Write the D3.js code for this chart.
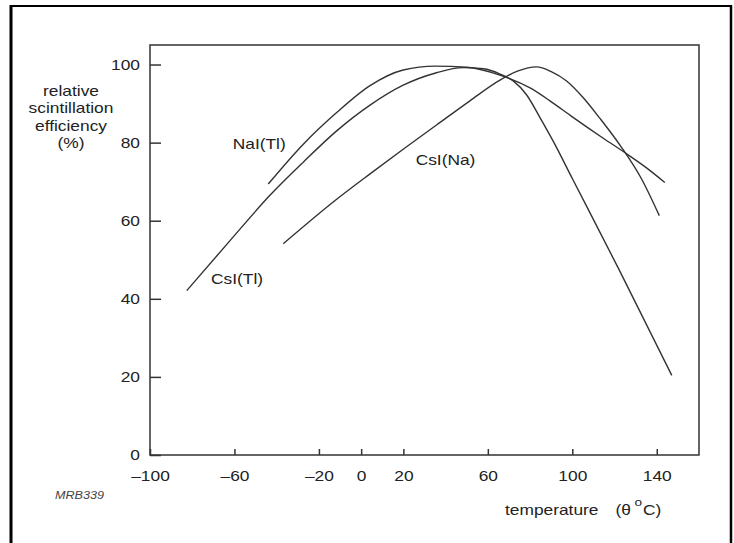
<!DOCTYPE html>
<html>
<head>
<meta charset="utf-8">
<script src="https://cdn.jsdelivr.net/npm/d3@7"></script>
<style>
  html, body { margin: 0; padding: 0; background: #fff; }
  svg { display: block; }
  text { font-family: "Liberation Sans", Arial, sans-serif; fill: #222; }
</style>
</head>
<body>
<svg id="chart" width="734" height="543"></svg>
<script>
// ---- data ----
const xTicks = [-100, -60, -20, 0, 20, 60, 100, 140];
const yTicks = [0, 20, 40, 60, 80, 100];

// temperature (°C), relative scintillation efficiency (%)
const naiTl = [[-44,69.4],[-27.4,79.6],[-11.6,87.7],[4.2,94.6],[19.9,98.6],[35,99.6],[50,99.3],[65.7,97.3],[80,94.0],[89.4,90.7],[100,86.6],[115,81],[125,77.4],[135,73.6],[143.8,69.8]];
const csiTl = [[-82.6,42.1],[-62.1,54.9],[-43.2,66.5],[-27.4,75.0],[-11.6,83],[4.2,89.6],[19.9,94.7],[35.7,97.9],[48.3,99.2],[58,98.9],[66,97.5],[72,95.8],[78.4,92.2],[84.7,86.4],[91,80.3],[100,70.8],[122.5,47.1],[147.1,20.4]];
const csiNa = [[-36.9,54.1],[-11.6,65.5],[4.2,72.0],[19.9,78.3],[35.7,84.5],[51.5,90.7],[65.7,96.0],[74,98.3],[83.1,99.4],[90,98.2],[97.3,95.8],[105.2,91.5],[113.1,86.2],[123.3,78.8],[133,70.5],[141.2,61.3]];

const seriesNames = ["NaI(Tl)", "CsI(Na)", "CsI(Tl)"];
const seriesData = [naiTl, csiNa, csiTl];
// label anchor in data coordinates (temperature, efficiency)
const labelAt = [[-60.8, 78.4], [25.8, 74.3], [-71.1, 43.7]];

const yTitle = ["relative", "scintillation", "efficiency", "(%)"];
const xTitle = "temperature";
const code = "MRB339";

// ---- layout ----
const SX = 1.24; // horizontal text stretch of the reference
const svg = d3.select("#chart");
const x = d3.scaleLinear().domain([-100, 160]).range([150, 699]);
const y = d3.scaleLinear().domain([0, 105]).range([455, 45]);

// outer border (left, top, right)
svg.append("line").attr("x1", 11).attr("x2", 11).attr("y1", 5).attr("y2", 543)
  .attr("stroke", "#000").attr("stroke-width", 3);
svg.append("line").attr("x1", 10).attr("x2", 732).attr("y1", 6).attr("y2", 6)
  .attr("stroke", "#000").attr("stroke-width", 2);
svg.append("line").attr("x1", 731).attr("x2", 731).attr("y1", 5).attr("y2", 543)
  .attr("stroke", "#000").attr("stroke-width", 2.5);

// plot frame
svg.append("rect")
  .attr("x", x(-100)).attr("y", y(105))
  .attr("width", x(160) - x(-100)).attr("height", y(0) - y(105))
  .attr("fill", "none").attr("stroke", "#333").attr("stroke-width", 1.5);

const fmt = d => d < 0 ? "\u2013" + Math.abs(d) : String(d);

// x axis
const gx = svg.append("g").attr("transform", `translate(0,${y(0)})`)
  .call(d3.axisBottom(x).tickValues(xTicks).tickSize(-6).tickSizeOuter(0).tickFormat(fmt));
gx.select(".domain").remove();
gx.selectAll(".tick line").attr("stroke", "#333").attr("stroke-width", 1.5);
gx.selectAll(".tick text")
  .attr("y", 0).attr("dy", 0)
  .attr("transform", `translate(0,26) scale(${SX},1)`)
  .style("font-size", "14px").style("fill", "#222")
  .attr("font-family", null);

// y axis
const gy = svg.append("g").attr("transform", `translate(${x(-100)},0)`)
  .call(d3.axisLeft(y).tickValues(yTicks).tickSize(-11).tickSizeOuter(0));
gy.select(".domain").remove();
gy.selectAll(".tick line").attr("stroke", "#333").attr("stroke-width", 1.5);
gy.selectAll(".tick text")
  .attr("x", 0).attr("dy", "0.34em")
  .attr("transform", `translate(-10,0) scale(${SX},1)`)
  .style("font-size", "14px").style("fill", "#222")
  .attr("font-family", null);

// curves
const line = d3.line()
  .x(d => x(d[0])).y(d => y(d[1]))
  .curve(d3.curveMonotoneX);
svg.append("g").selectAll("path").data(seriesData).join("path")
  .attr("d", line)
  .attr("fill", "none").attr("stroke", "#333").attr("stroke-width", 1.4);

// series labels
svg.append("g").selectAll("text").data(seriesNames).join("text")
  .attr("transform", (d, i) => `translate(${x(labelAt[i][0])},${y(labelAt[i][1])}) scale(${SX},1)`)
  .style("font-size", "14px")
  .text(d => d);

// y title
svg.append("g").selectAll("text").data(yTitle).join("text")
  .attr("transform", (d, i) => `translate(71,${96 + i * 17.3}) scale(${SX},1)`)
  .attr("text-anchor", "middle")
  .style("font-size", "14px")
  .text(d => d);

// x title
svg.append("text")
  .attr("transform", `translate(505,515) scale(${SX},1)`)
  .style("font-size", "14px")
  .text(xTitle);
svg.append("text")
  .attr("transform", `translate(615.5,515) scale(${SX},1)`)
  .style("font-size", "14px")
  .text("(\u03b8");
svg.append("text")
  .attr("transform", `translate(634.5,506) scale(${SX},1)`)
  .style("font-size", "11px")
  .text("o");
svg.append("text")
  .attr("transform", `translate(643,515) scale(${SX},1)`)
  .style("font-size", "14px")
  .text("C)");

// figure code
svg.append("text")
  .attr("transform", `translate(55,499) scale(1.2,1)`)
  .style("font-size", "10.5px").style("font-style", "italic").style("fill", "#444")
  .text(code);
</script>
</body>
</html>
